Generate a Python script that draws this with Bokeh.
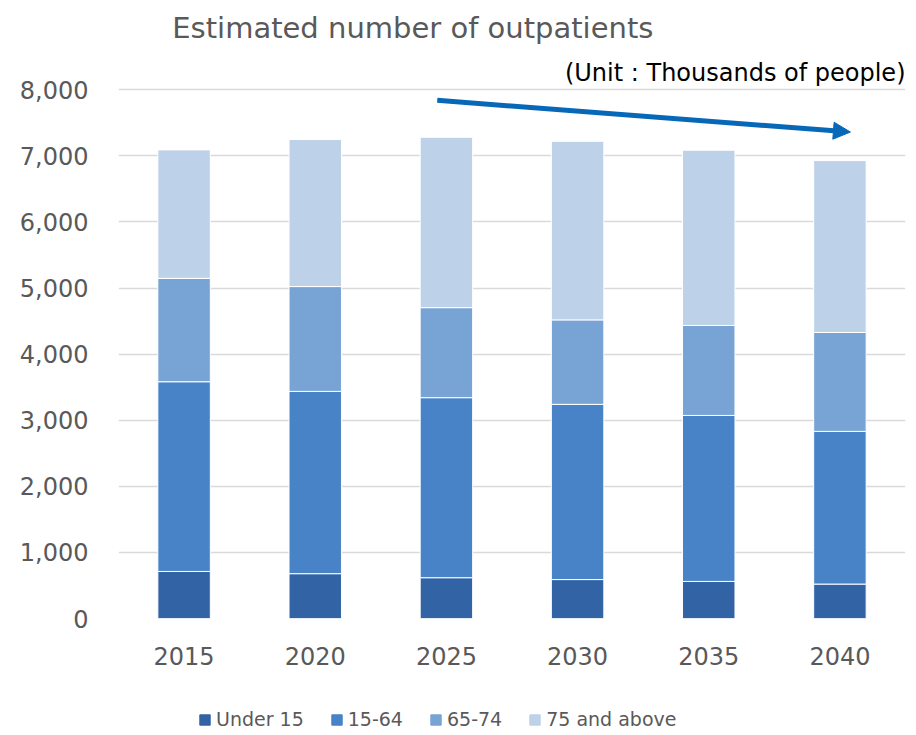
from bokeh.plotting import figure
from bokeh.layouts import column
from bokeh.models import (ColumnDataSource, Legend, LegendItem, NumeralTickFormatter,
                          Arrow, NormalHead, Label, Range1d)
from bokeh.embed import file_html
from bokeh.resources import INLINE

years = ["2015", "2020", "2025", "2030", "2035", "2040"]
series = ["Under 15", "15-64", "65-74", "75 and above"]
under15 = [712, 678, 617, 589, 561, 521]
age15_64 = [2870, 2758, 2724, 2651, 2511, 2310]
age65_74 = [1564, 1586, 1362, 1278, 1362, 1496]
age75 = [1944, 2226, 2578, 2702, 2651, 2601]
colors = ["#3263A4", "#4882C7", "#78A3D5", "#BDD2E9"]
title_text = "Estimated number of outpatients"
unit_text = "(Unit : Thousands of people)"

FONT = "DejaVu Sans"
GRAY = "#595959"

src = ColumnDataSource(dict(year=years, u15=under15, a1564=age15_64,
                            a6574=age65_74, a75=age75))

# frame spans from the very top of the canvas down to the zero line
p = figure(x_range=years, y_range=Range1d(0, 9350),
           frame_width=787, frame_height=618,
           output_backend="svg", toolbar_location=None,
           min_border_left=118, min_border_right=11, min_border_top=0,
           min_border_bottom=72)

rs = p.vbar_stack(["u15", "a1564", "a6574", "a75"], x="year", width=0.4,
                  color=colors, line_color="white", line_width=1, source=src)

p.outline_line_color = None
p.background_fill_color = "white"
p.border_fill_color = "white"

p.xgrid.grid_line_color = None
p.ygrid.grid_line_color = "#D9D9D9"
p.ygrid.grid_line_width = 1.5
p.yaxis.ticker = [0, 1000, 2000, 3000, 4000, 5000, 6000, 7000, 8000]
p.yaxis.formatter = NumeralTickFormatter(format="0,0")

for ax in (p.xaxis, p.yaxis):
    ax.axis_line_color = None
    ax.major_tick_line_color = None
    ax.minor_tick_line_color = None
    ax.major_tick_out = 0
    ax.major_tick_in = 0
    ax.major_label_text_font = FONT
    ax.major_label_text_font_size = "24px"
    ax.major_label_text_color = GRAY
p.yaxis.major_label_standoff = 30
p.xaxis.major_label_standoff = 28

p.add_layout(Arrow(end=NormalHead(size=17, fill_color="#0868B8", line_color="#0868B8"),
                   x_start=2.43, y_start=7840, x_end=5.58, y_end=7360,
                   line_color="#0868B8", line_width=5))

p.add_layout(Label(x=0.41, y=8930, text=title_text, text_font=FONT,
                   text_font_size="29px", text_color=GRAY,
                   text_baseline="middle", text_align="left"))
p.add_layout(Label(x=6.0, y=8260, text=unit_text, text_font=FONT,
                   text_font_size="24px", text_color="black",
                   text_baseline="middle", text_align="right"))

# legend strip below the chart
p2 = figure(width=916, height=45, x_range=Range1d(0, 1), y_range=Range1d(0, 1),
            output_backend="svg", toolbar_location=None,
            min_border_left=0, min_border_right=0, min_border_top=0,
            min_border_bottom=0)
p2.axis.visible = False
p2.grid.grid_line_color = None
p2.outline_line_color = None
items = []
for s, c in zip(series, colors):
    r = p2.rect(x=[-5], y=[-5], width=0.1, height=0.1, fill_color=c, line_color=c)
    items.append(LegendItem(label=s, renderers=[r]))
legend = Legend(items=items, orientation="horizontal", location=(80, 5),
                label_text_font=FONT, label_text_font_size="19px",
                label_text_color=GRAY, glyph_width=13, glyph_height=13,
                label_standoff=5, spacing=26, border_line_color=None,
                background_fill_alpha=0, margin=0, padding=4)
p2.add_layout(legend, "center")

open("out.html", "w").write(file_html(column(p, p2, spacing=0), INLINE))
